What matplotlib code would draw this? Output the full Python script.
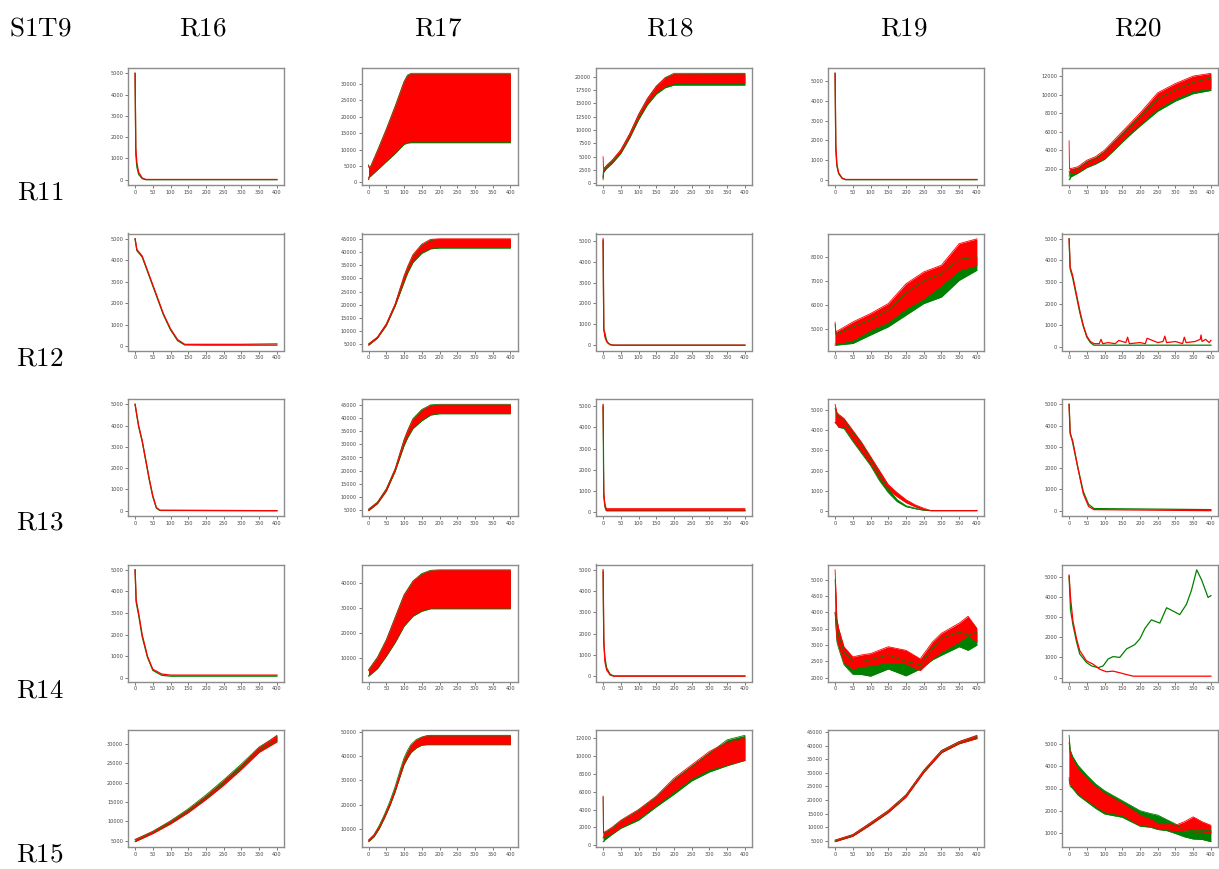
import matplotlib
matplotlib.use("Agg")
import matplotlib.pyplot as plt
from matplotlib.ticker import MultipleLocator

plt.rcParams['mathtext.fontset'] = 'cm'

col_names = ['R16', 'R17', 'R18', 'R19', 'R20']
row_names = ['R11', 'R12', 'R13', 'R14', 'R15']
corner_name = 'S1T9'

# y tick spacing of every panel, row by row
y_steps = [
    [1000, 5000, 2500, 1000, 2000],
    [1000, 5000, 1000, 1000, 1000],
    [1000, 5000, 1000, 1000, 1000],
    [1000, 10000, 1000, 500, 1000],
    [5000, 10000, 2000, 5000, 1000],
]

# ---------------- row R11 ----------------
r11_r16_x = [0, 2, 5, 10, 20, 30, 400]
r11_r16_green = [5000, 1200, 600, 250, 50, 0, 0]
r11_r16_red = [5000, 1500, 800, 350, 80, 10, 10]

r11_r17_x = [0, 1, 5, 25, 50, 75, 100, 110, 120, 400]
r11_r17_green_lo = [800, 1500, 1800, 3800, 6300, 8800, 11600, 12000, 12100, 12100]
r11_r17_green_hi = [5300, 4700, 4700, 9700, 16300, 23300, 30800, 32800, 33300, 33300]
r11_r17_red_lo = [900, 1700, 2000, 4000, 6500, 9000, 11900, 12300, 12400, 12400]
r11_r17_red_hi = [5200, 4500, 4500, 9500, 16000, 23000, 30500, 32500, 33000, 33000]

r11_r18_x = [0, 1, 5, 10, 25, 50, 75, 100, 125, 150, 175, 200, 400]
r11_r18_green_lo = [700, 2000, 2400, 2800, 3700, 5600, 8500, 11900, 14700, 16700, 17900, 18400, 18400]
r11_r18_green_hi = [1200, 2600, 2900, 3300, 4200, 6200, 9200, 12800, 15800, 18100, 19800, 20600, 20600]
r11_r18_red_lo = [1000, 2200, 2600, 3000, 3900, 5800, 8700, 12200, 15000, 17000, 18200, 18700, 18700]
r11_r18_red_hi = [5000, 2800, 3000, 3400, 4300, 6300, 9300, 12900, 15900, 18200, 19700, 20400, 20500]

r11_r19_x = [0, 2, 5, 10, 20, 30, 400]
r11_r19_green = [5400, 1500, 700, 300, 60, 0, 0]
r11_r19_red = [5400, 1800, 800, 350, 80, 10, 10]

r11_r20_x = [0, 1, 5, 25, 50, 75, 100, 125, 150, 175, 200, 250, 300, 350, 400]
r11_r20_green_lo = [800, 800, 1100, 1500, 2100, 2500, 3000, 3900, 4850, 5750, 6600, 8200, 9300, 10100, 10450]
r11_r20_green_hi = [1200, 1400, 1600, 2000, 2700, 3100, 3800, 4800, 5700, 6600, 7600, 9500, 10500, 11300, 11800]
r11_r20_red_lo = [1700, 1500, 1500, 1600, 2200, 2600, 3100, 4000, 5000, 5900, 6800, 8500, 9600, 10400, 10700]
r11_r20_red_hi = [5000, 2000, 2000, 2200, 2900, 3300, 4000, 5000, 6000, 7000, 8000, 10200, 11200, 12000, 12300]

# ---------------- row R12 ----------------
r12_r16_x = [0, 5, 20, 40, 60, 80, 100, 120, 140, 200, 300, 400]
r12_r16_green = [5000, 4450, 4150, 3250, 2350, 1450, 750, 250, 50, 40, 40, 40]
r12_r16_red = [5000, 4500, 4200, 3300, 2400, 1500, 800, 300, 80, 80, 80, 100]

r12_r17_x = [0, 25, 50, 75, 100, 110, 125, 150, 175, 200, 400]
r12_r17_green_lo = [4700, 7400, 12200, 19600, 28500, 32000, 36000, 39500, 41200, 41500, 41500]
r12_r17_green_hi = [5100, 7700, 12700, 20300, 30500, 34000, 38500, 42500, 44500, 44800, 44800]
r12_r17_red_lo = [4800, 7500, 12300, 19800, 29000, 32500, 36500, 40000, 41500, 41800, 41800]
r12_r17_red_hi = [5200, 7800, 12800, 20400, 31000, 34500, 39000, 43000, 44800, 45000, 45000]

r12_r18_x = [0, 2, 5, 8, 12, 20, 30, 400]
r12_r18_green = [5000, 700, 600, 350, 150, 30, 0, 0]
r12_r18_red = [5100, 800, 400, 250, 120, 20, 0, 0]

r12_r19_x = [0, 2, 50, 100, 150, 200, 250, 300, 350, 400]
r12_r19_green_lo = [4350, 4350, 4420, 4770, 5110, 5590, 6070, 6340, 7030, 7450]
r12_r19_green_hi = [5200, 4800, 5100, 5400, 5800, 6500, 7000, 7300, 7900, 8000]
r12_r19_red_lo = [4400, 4400, 4560, 4970, 5310, 5860, 6270, 6820, 7450, 7660]
r12_r19_red_hi = [5300, 4900, 5310, 5660, 6070, 6890, 7380, 7660, 8550, 8750]

r12_r20_green_x = [0, 3, 10, 20, 30, 40, 50, 60, 70, 400]
r12_r20_green = [5000, 3600, 3200, 2400, 1600, 950, 450, 200, 80, 80]
r12_r20_red_x = [0, 3, 10, 20, 30, 40, 50, 60, 70, 85, 90, 95, 110, 130, 140, 160, 165,
                 170, 200, 215, 220, 250, 265, 270, 275, 300, 320, 325, 330, 355, 370,
                 372, 375, 385, 395, 400]
r12_r20_red = [5000, 3700, 3300, 2500, 1700, 1000, 500, 250, 150, 150, 350, 150, 200, 150,
               300, 200, 450, 150, 200, 150, 400, 200, 250, 500, 200, 250, 150, 450, 200,
               250, 350, 550, 250, 350, 200, 300]

# ---------------- row R13 ----------------
r13_r16_x = [0, 5, 10, 20, 30, 40, 50, 60, 70, 400]
r13_r16_green = [5000, 4450, 3950, 3250, 2350, 1450, 650, 120, 10, 0]
r13_r16_red = [5000, 4500, 4000, 3300, 2400, 1500, 700, 150, 20, 0]

r13_r17_x = [0, 25, 50, 75, 100, 110, 125, 150, 175, 200, 400]
r13_r17_green_lo = [4700, 7400, 12200, 19800, 29500, 32500, 36000, 39000, 41200, 41700, 41700]
r13_r17_green_hi = [5300, 8000, 13100, 20800, 31800, 35300, 39800, 43300, 45100, 45300, 45300]
r13_r17_red_lo = [4800, 7500, 12300, 20000, 30000, 33000, 36500, 39500, 41500, 42000, 42000]
r13_r17_red_hi = [5200, 7800, 12800, 20500, 31500, 35000, 39500, 43000, 44800, 45000, 45000]

r13_r18_x = [0, 2, 5, 8, 10, 400]
r13_r18_green = [5000, 700, 250, 80, 50, 50]
r13_r18_red_lo = [5100, 800, 300, 100, 50, 50]
r13_r18_red_hi = [5100, 900, 400, 200, 150, 150]

r13_r19_x = [0, 5, 10, 25, 50, 75, 100, 125, 150, 175, 200, 225, 250, 270, 400]
r13_r19_green_lo = [4400, 4300, 4150, 4100, 3450, 2850, 2250, 1500, 900, 450, 200, 100, 20, 0, 0]
r13_r19_green_hi = [5100, 4800, 4700, 4500, 3900, 3300, 2600, 1800, 1100, 550, 250, 130, 30, 0, 0]
r13_r19_red_lo = [4400, 4300, 4200, 4200, 3550, 2950, 2350, 1650, 1050, 700, 400, 200, 50, 0, 0]
r13_r19_red_hi = [5300, 4900, 4800, 4600, 4000, 3400, 2700, 2000, 1300, 900, 550, 300, 120, 10, 10]

r13_r20_x = [0, 3, 10, 25, 40, 55, 70, 400]
r13_r20_green = [5000, 3700, 3200, 2000, 900, 300, 100, 50]
r13_r20_red = [5000, 3600, 3300, 2000, 800, 200, 50, 0]

# ---------------- row R14 ----------------
r14_r16_x = [0, 3, 10, 20, 35, 50, 75, 100, 400]
r14_r16_green = [5000, 3500, 2900, 1900, 950, 350, 120, 80, 80]
r14_r16_red = [5000, 3600, 3000, 2000, 1000, 400, 180, 130, 130]

r14_r17_x = [0, 25, 50, 75, 100, 125, 150, 175, 200, 400]
r14_r17_green_lo = [2700, 5700, 10700, 16200, 22700, 26700, 28700, 29700, 29700, 29700]
r14_r17_green_hi = [5300, 10300, 17300, 26300, 35300, 40800, 43800, 45100, 45300, 45300]
r14_r17_red_lo = [3000, 6000, 11000, 16500, 23000, 27000, 29000, 30000, 30000, 30000]
r14_r17_red_hi = [5000, 10000, 17000, 26000, 35000, 40500, 43500, 44800, 45000, 45000]

r14_r18_x = [0, 2, 5, 10, 20, 30, 400]
r14_r18_green = [4900, 1500, 900, 400, 100, 20, 20]
r14_r18_red = [5000, 1800, 700, 300, 60, 10, 10]

r14_r19_x = [0, 5, 10, 25, 50, 75, 100, 150, 200, 240, 275, 300, 350, 375, 400]
r14_r19_green_lo = [4000, 3100, 2900, 2400, 2110, 2100, 2050, 2270, 2060, 2270, 2550, 2690, 2950, 2840, 3000]
r14_r19_green_hi = [5000, 3600, 3300, 2800, 2500, 2500, 2550, 2700, 2500, 2400, 2900, 3200, 3400, 3300, 3400]
r14_r19_red_lo = [4000, 3200, 3000, 2480, 2270, 2350, 2375, 2480, 2430, 2220, 2580, 2790, 3100, 3300, 3100]
r14_r19_red_hi = [5300, 3800, 3510, 2950, 2640, 2700, 2740, 2950, 2840, 2580, 3100, 3360, 3670, 3880, 3510]

r14_r20_green_x = [0, 4, 11, 21, 30, 49, 63, 82, 96, 110, 124, 143, 162, 185, 200, 214,
                   232, 256, 275, 294, 312, 331, 345, 360, 374, 383, 392, 400]
r14_r20_green = [5000, 3370, 2600, 1770, 1170, 750, 580, 490, 580, 920, 1040, 1000, 1420,
                 1630, 1930, 2440, 2860, 2700, 3460, 3290, 3120, 3630, 4320, 5340, 4830,
                 4400, 3970, 4060]
r14_r20_red_x = [0, 4, 11, 21, 30, 49, 68, 87, 105, 124, 143, 162, 181, 400]
r14_r20_red = [5080, 3970, 2780, 1930, 1340, 830, 660, 410, 290, 320, 240, 150, 70, 70]

# ---------------- row R15 ----------------
r15_r16_x = [0, 50, 100, 150, 200, 250, 300, 350, 400]
r15_r16_green_lo = [4800, 7000, 9500, 12400, 15900, 19700, 23800, 28200, 30800]
r15_r16_green_hi = [5200, 7400, 10100, 13200, 16800, 20700, 24800, 29200, 32000]
r15_r16_red_lo = [4700, 6800, 9300, 12200, 15600, 19300, 23400, 27800, 30500]
r15_r16_red_hi = [5300, 7300, 9900, 12900, 16400, 20300, 24400, 28900, 32200]

r15_r17_x = [0, 15, 30, 45, 60, 75, 90, 100, 110, 120, 135, 150, 165, 175, 400]
r15_r17_green_lo = [4600, 6600, 10000, 14500, 19500, 25400, 32200, 36600, 39300, 41600, 43500, 44600, 44800, 44800, 44800]
r15_r17_green_hi = [5300, 7500, 11300, 16000, 21300, 27500, 34800, 39300, 42500, 45000, 47000, 48000, 48600, 48700, 48700]
r15_r17_red_lo = [4800, 6800, 10200, 14700, 19700, 25600, 32400, 36800, 39500, 41800, 43700, 44800, 45000, 45000, 45000]
r15_r17_red_hi = [5200, 7200, 10800, 15300, 20300, 26400, 33600, 38300, 41500, 44300, 46500, 47800, 48400, 48500, 48500]

r15_r18_x = [0, 1, 5, 25, 50, 100, 150, 200, 250, 300, 350, 400]
r15_r18_green_lo = [400, 400, 600, 1200, 1900, 2800, 4300, 5700, 7200, 8200, 8900, 9500]
r15_r18_green_hi = [5400, 1400, 1400, 1900, 2700, 3900, 5400, 7300, 8800, 10300, 11800, 12300]
r15_r18_red_lo = [800, 1000, 1000, 1300, 2000, 3000, 4500, 6000, 7500, 8500, 9000, 9500]
r15_r18_red_hi = [5500, 1500, 1500, 2000, 2800, 4000, 5500, 7500, 9000, 10500, 11500, 12000]

r15_r19_x = [0, 50, 100, 150, 200, 250, 300, 350, 400]
r15_r19_green_lo = [4800, 6800, 11000, 15500, 21200, 30200, 37500, 40800, 42700]
r15_r19_green_hi = [5200, 7300, 11600, 16100, 21900, 30900, 38200, 41500, 43600]
r15_r19_red_lo = [4700, 6700, 10900, 15400, 21100, 30100, 37400, 40700, 42600]
r15_r19_red_hi = [5300, 7300, 11700, 16200, 21900, 30900, 38200, 41500, 43800]

r15_r20_x = [0, 3, 10, 25, 50, 75, 100, 150, 200, 230, 250, 275, 300, 325, 350, 375, 400]
r15_r20_green_lo = [3400, 3100, 3000, 2700, 2400, 2100, 1850, 1700, 1300, 1250, 1150, 1100, 970, 820, 720, 700, 600]
r15_r20_green_hi = [5400, 4750, 4450, 4050, 3600, 3200, 2900, 2450, 2000, 1870, 1800, 1600, 1400, 1100, 1100, 1100, 1100]
r15_r20_red_lo = [3500, 3200, 3100, 2780, 2480, 2200, 1950, 1800, 1340, 1300, 1200, 1150, 1100, 1100, 1050, 1050, 1000]
r15_r20_red_hi = [5075, 4600, 4300, 3880, 3430, 3070, 2780, 2330, 1800, 1600, 1420, 1400, 1340, 1500, 1720, 1500, 1340]

# each panel: (green series, red series); a series is (x, lo, hi), hi=None for a plain line
panels = [
    [((r11_r16_x, r11_r16_green, None), (r11_r16_x, r11_r16_red, None)),
     ((r11_r17_x, r11_r17_green_lo, r11_r17_green_hi), (r11_r17_x, r11_r17_red_lo, r11_r17_red_hi)),
     ((r11_r18_x, r11_r18_green_lo, r11_r18_green_hi), (r11_r18_x, r11_r18_red_lo, r11_r18_red_hi)),
     ((r11_r19_x, r11_r19_green, None), (r11_r19_x, r11_r19_red, None)),
     ((r11_r20_x, r11_r20_green_lo, r11_r20_green_hi), (r11_r20_x, r11_r20_red_lo, r11_r20_red_hi))],
    [((r12_r16_x, r12_r16_green, None), (r12_r16_x, r12_r16_red, None)),
     ((r12_r17_x, r12_r17_green_lo, r12_r17_green_hi), (r12_r17_x, r12_r17_red_lo, r12_r17_red_hi)),
     ((r12_r18_x, r12_r18_green, None), (r12_r18_x, r12_r18_red, None)),
     ((r12_r19_x, r12_r19_green_lo, r12_r19_green_hi), (r12_r19_x, r12_r19_red_lo, r12_r19_red_hi)),
     ((r12_r20_green_x, r12_r20_green, None), (r12_r20_red_x, r12_r20_red, None))],
    [((r13_r16_x, r13_r16_green, None), (r13_r16_x, r13_r16_red, None)),
     ((r13_r17_x, r13_r17_green_lo, r13_r17_green_hi), (r13_r17_x, r13_r17_red_lo, r13_r17_red_hi)),
     ((r13_r18_x, r13_r18_green, None), (r13_r18_x, r13_r18_red_lo, r13_r18_red_hi)),
     ((r13_r19_x, r13_r19_green_lo, r13_r19_green_hi), (r13_r19_x, r13_r19_red_lo, r13_r19_red_hi)),
     ((r13_r20_x, r13_r20_green, None), (r13_r20_x, r13_r20_red, None))],
    [((r14_r16_x, r14_r16_green, None), (r14_r16_x, r14_r16_red, None)),
     ((r14_r17_x, r14_r17_green_lo, r14_r17_green_hi), (r14_r17_x, r14_r17_red_lo, r14_r17_red_hi)),
     ((r14_r18_x, r14_r18_green, None), (r14_r18_x, r14_r18_red, None)),
     ((r14_r19_x, r14_r19_green_lo, r14_r19_green_hi), (r14_r19_x, r14_r19_red_lo, r14_r19_red_hi)),
     ((r14_r20_green_x, r14_r20_green, None), (r14_r20_red_x, r14_r20_red, None))],
    [((r15_r16_x, r15_r16_green_lo, r15_r16_green_hi), (r15_r16_x, r15_r16_red_lo, r15_r16_red_hi)),
     ((r15_r17_x, r15_r17_green_lo, r15_r17_green_hi), (r15_r17_x, r15_r17_red_lo, r15_r17_red_hi)),
     ((r15_r18_x, r15_r18_green_lo, r15_r18_green_hi), (r15_r18_x, r15_r18_red_lo, r15_r18_red_hi)),
     ((r15_r19_x, r15_r19_green_lo, r15_r19_green_hi), (r15_r19_x, r15_r19_red_lo, r15_r19_red_hi)),
     ((r15_r20_x, r15_r20_green_lo, r15_r20_green_hi), (r15_r20_x, r15_r20_red_lo, r15_r20_red_hi))],
]


def draw_series(ax, series, color):
    x, lo, hi = series
    if hi is None:
        ax.plot(x, lo, color=color, lw=0.9)
    else:
        ax.fill_between(x, lo, hi, color=color, lw=0)
        ax.plot(x, lo, color=color, lw=0.6)
        ax.plot(x, hi, color=color, lw=0.6)


W, H = 1219, 869
fig = plt.figure(figsize=(W / 100, H / 100), dpi=100)

# layout in pixels
ax_lefts = [128, 361.5, 596, 828, 1062]
ax_tops = [68, 233.5, 399, 564.5, 730]
ax_w, ax_h = 156, 117

for i, row in enumerate(panels):
    for j, (green, red) in enumerate(row):
        ax = fig.add_axes([ax_lefts[j] / W, 1 - (ax_tops[i] + ax_h) / H, ax_w / W, ax_h / H])
        draw_series(ax, green, 'green')
        draw_series(ax, red, 'red')
        ax.xaxis.set_major_locator(MultipleLocator(50))
        ax.yaxis.set_major_locator(MultipleLocator(y_steps[i][j]))
        ax.set_xlim(-20, 420)
        ax.tick_params(labelsize=3.6, length=2, width=0.5, pad=1.5, colors='#444444')
        for s in ax.spines.values():
            s.set_color('#8c8c8c')
            s.set_linewidth(1.0)

# header and row labels
fig.text(40 / W, 1 - 28 / H, r'$\mathrm{' + corner_name + '}$', fontsize=19.5,
         ha='center', va='center')
head_x = [203, 438, 670, 904, 1138]
for name, hx in zip(col_names, head_x):
    fig.text(hx / W, 1 - 28 / H, r'$\mathrm{' + name + '}$', fontsize=19.5,
             ha='center', va='center')
row_y = [193, 358, 523, 690, 855]
for name, ry in zip(row_names, row_y):
    fig.text(40 / W, 1 - ry / H, r'$\mathrm{' + name + '}$', fontsize=19.5,
             ha='center', va='center')

fig.savefig('out.png', dpi=100)
